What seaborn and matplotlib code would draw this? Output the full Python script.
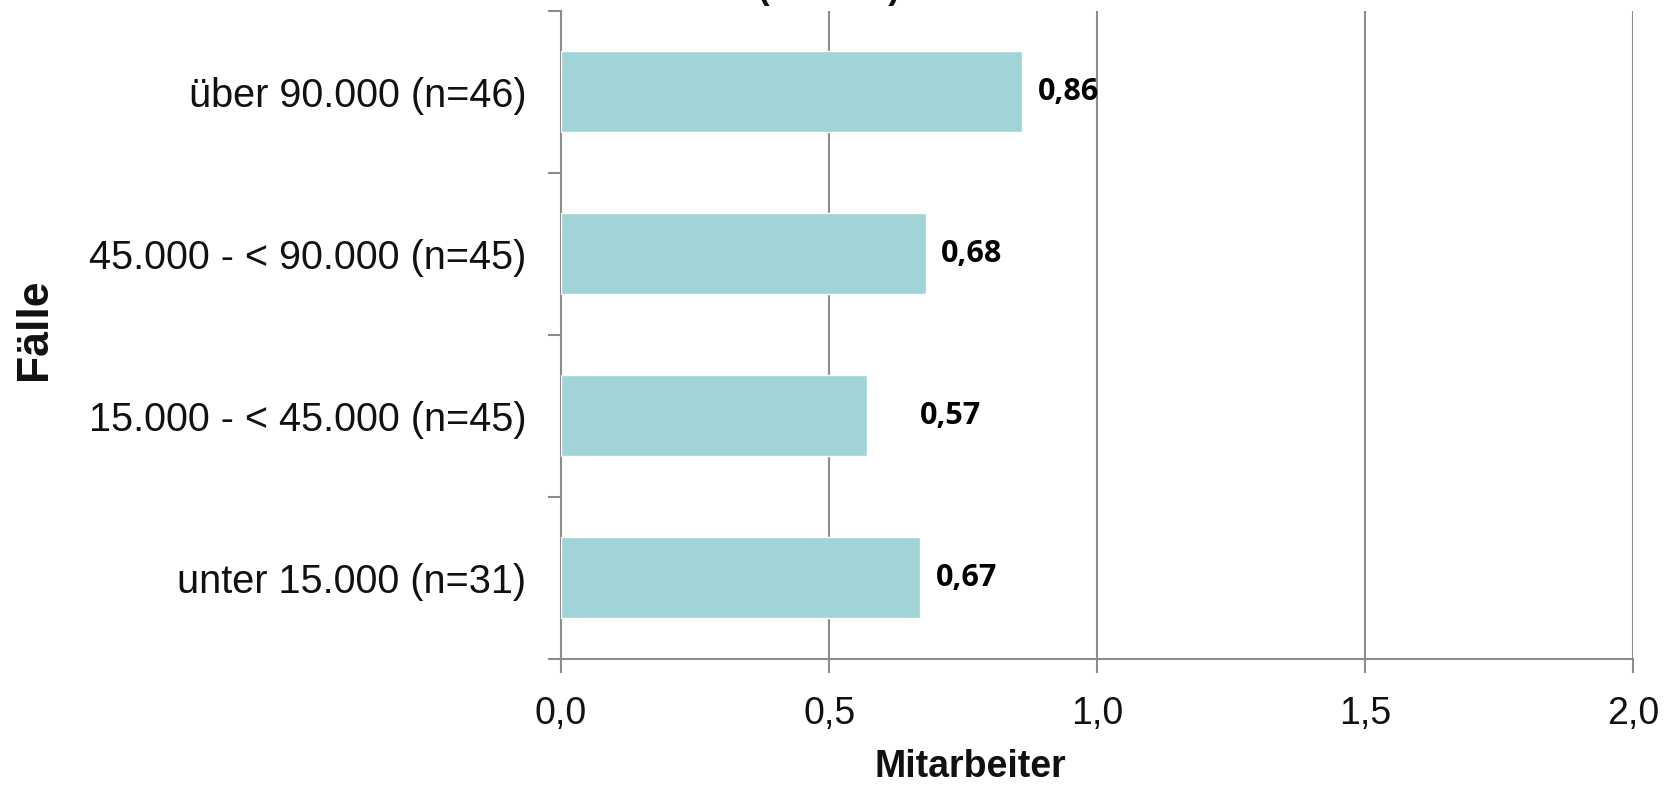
import matplotlib
matplotlib.use("Agg")
import matplotlib.pyplot as plt
import seaborn as sns
import pandas as pd

# Mitarbeiter je Größenklasse
categories = [
    "über 90.000 (n=46)",
    "45.000 - < 90.000 (n=45)",
    "15.000 - < 45.000 (n=45)",
    "unter 15.000 (n=31)",
]
values = [0.86, 0.68, 0.57, 0.67]
value_labels = ["0,86", "0,68", "0,57", "0,67"]
xtick_values = [0.0, 0.5, 1.0, 1.5, 2.0]
xtick_labels = ["0,0", "0,5", "1,0", "1,5", "2,0"]

# label offsets from bar end, in points
label_offsets = [11, 11, 38, 11]

sns.set_theme(style="white")
plt.rcParams["font.family"] = ["Liberation Sans", "DejaVu Sans"]

df = pd.DataFrame({"Fälle": categories, "Mitarbeiter": values})

fig = plt.figure(figsize=(16.70, 7.87), dpi=100)
ax = fig.add_axes([0.336, 0.163, 0.642, 0.8235])

bar_color = "#a0d4d7"
grid_color = "#8c8c8c"

sns.barplot(data=df, y="Fälle", x="Mitarbeiter", orient="h", color=bar_color,
            saturation=1, width=0.5, ax=ax, zorder=3)

ax.set_xlim(0, 2.0)
ax.set_ylim(3.5, -0.5)
ax.set_xticks(xtick_values)
ax.set_xticklabels(xtick_labels)
ax.xaxis.grid(True, color=grid_color, linewidth=1.5, zorder=0)
ax.set_axisbelow(True)

# category boundaries as y ticks
ax.set_yticks([-0.5, 0.5, 1.5, 2.5, 3.5], minor=False)
ax.set_yticklabels([])
ax.set_yticks(range(len(categories)), minor=True)
ax.set_yticklabels(categories, minor=True)
ax.tick_params(axis="y", which="major", length=9.5, width=1.5, color=grid_color, direction="out", left=True)
ax.tick_params(axis="y", which="minor", length=0, pad=25, labelsize=28.5, labelcolor="#111111")
ax.tick_params(axis="x", length=10, width=1.5, color=grid_color, direction="out",
               bottom=True, pad=17, labelsize=27, labelcolor="#111111")

for side in ["top", "right"]:
    ax.spines[side].set_visible(False)
for side in ["left", "bottom"]:
    ax.spines[side].set_color(grid_color)
    ax.spines[side].set_linewidth(1.5)

for i, (v, lab, off) in enumerate(zip(values, value_labels, label_offsets)):
    ax.annotate(lab, xy=(v, i), xytext=(off, 0), textcoords="offset points",
                ha="left", va="center", fontsize=22, fontweight="bold",
                family=["Open Sans", "DejaVu Sans"], color="#000000")

ax.set_xlabel("Mitarbeiter", fontsize=27, fontweight="bold", color="#111111")
ax.xaxis.set_label_coords(0.382, -0.14)
ax.set_ylabel("Fälle", fontsize=32, fontweight="bold", color="#111111")
ax.yaxis.set_label_coords(-0.472, 0.508)

fig.text(0.496, 1.0 + 1.5 / 787, "(Median)", ha="center", va="baseline",
         fontsize=25, fontweight="bold", color="#111111")

fig.savefig("out.png", dpi=100, facecolor="white")
